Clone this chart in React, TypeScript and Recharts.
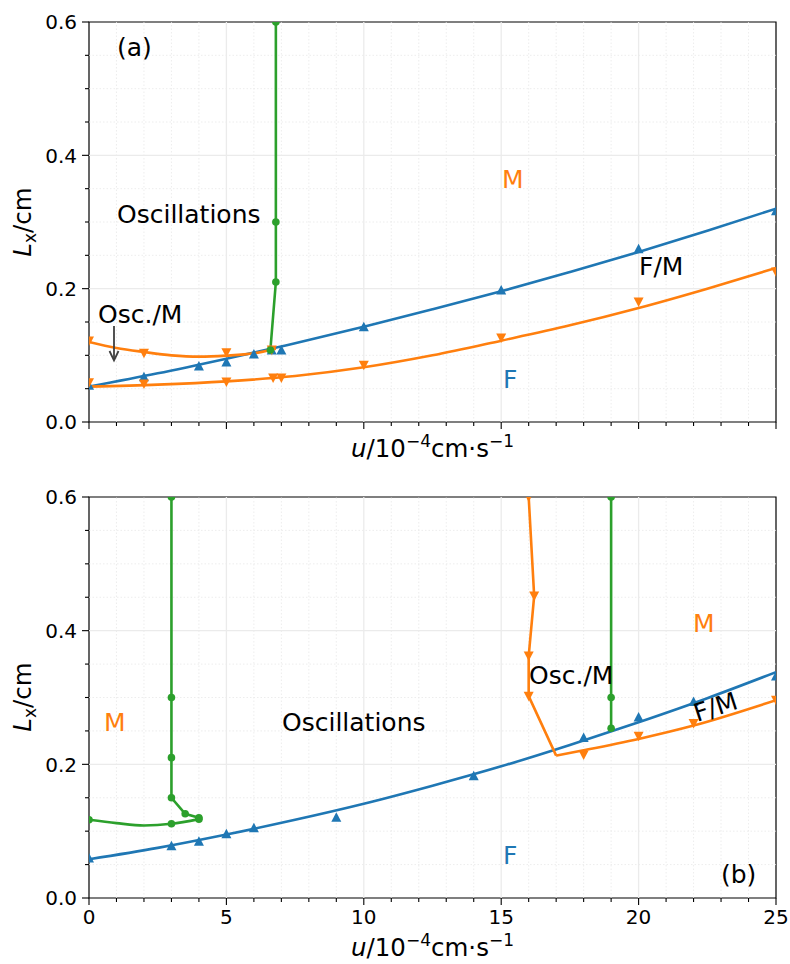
import React from "react";
import { ComposedChart, Line, Scatter, XAxis, YAxis, ReferenceLine, ReferenceArea } from "recharts";

const FONT = "DejaVu Sans, Liberation Sans, sans-serif";
const BLUE = "#1f77b4";
const ORANGE = "#ff7f0e";
const GREEN = "#2ca02c";

// axis ticks (minor + major)
const xTicks = [0, 1, 2, 3, 4, 5, 6, 7, 8, 9, 10, 11, 12, 13, 14, 15, 16, 17, 18, 19, 20, 21, 22, 23, 24, 25];
const xMajor = [0, 5, 10, 15, 20, 25];
const yTicks = [0, 0.05, 0.1, 0.15, 0.2, 0.25, 0.3, 0.35, 0.4, 0.45, 0.5, 0.55, 0.6];
const yMajor = [0, 0.2, 0.4, 0.6];

// ---- panel (a)
const aBlueMarkU = [0, 2, 4, 5, 6, 6.65, 7, 10, 15, 20, 25];
const aBlueMarkL = [0.055, 0.068, 0.084, 0.09, 0.102, 0.108, 0.108, 0.143, 0.198, 0.26, 0.317];
const aBlueFitU = [0, 2.5, 5, 7.5, 10, 12.5, 15, 17.5, 20, 22.5, 25];
const aBlueFitL = [0.053, 0.073, 0.095, 0.118, 0.143, 0.169, 0.196, 0.225, 0.255, 0.287, 0.32];
const aOrLowMarkU = [0, 2, 5, 6.7, 7, 10, 15, 20, 25];
const aOrLowMarkL = [0.059, 0.057, 0.06, 0.066, 0.066, 0.085, 0.126, 0.18, 0.225];
const aOrLowFitU = [0, 2.5, 5, 7.5, 10, 12.5, 15, 17.5, 20, 22.5, 25];
const aOrLowFitL = [0.053, 0.056, 0.061, 0.069, 0.082, 0.1, 0.122, 0.145, 0.171, 0.2, 0.231];
const aOrUpMarkU = [0, 2, 5, 6.65];
const aOrUpMarkL = [0.1215, 0.103, 0.104, 0.108];
const aOrUpFitU = [0, 1, 2, 3, 4, 5, 6, 6.8];
const aOrUpFitL = [0.12, 0.111, 0.105, 0.1, 0.098, 0.0995, 0.103, 0.11];
const aGreenU = [6.8, 6.8, 6.8, 6.6];
const aGreenL = [0.6, 0.3, 0.21, 0.108];

// ---- panel (b)
const bBlueMarkU = [0, 3, 4, 5, 6, 9, 14, 18, 20, 22, 25];
const bBlueMarkL = [0.06, 0.078, 0.085, 0.096, 0.105, 0.121, 0.183, 0.24, 0.271, 0.294, 0.332];
const bBlueFitU = [0, 2.5, 5, 7.5, 10, 12.5, 15, 17.5, 20, 22.5, 25];
const bBlueFitL = [0.058, 0.075, 0.095, 0.117, 0.141, 0.168, 0.197, 0.229, 0.263, 0.299, 0.338];
const bOrUpU = [16, 16.2, 16, 16, 17];
const bOrUpL = [0.6, 0.452, 0.362, 0.302, 0.213];
const bOrUpMarkU = [16, 16.2, 16, 16];
const bOrUpMarkL = [0.6, 0.452, 0.362, 0.302];
const bOrLowFitU = [17, 18, 20, 22, 25];
const bOrLowFitL = [0.213, 0.221, 0.238, 0.258, 0.296];
const bOrLowMarkU = [18, 20, 22, 25];
const bOrLowMarkL = [0.214, 0.242, 0.261, 0.296];
const bGreenAU = [3, 3, 3, 3, 3.5, 4];
const bGreenAL = [0.6, 0.3, 0.21, 0.15, 0.126, 0.12];
const bGreenBU = [0, 1, 2, 3, 4];
const bGreenBL = [0.117, 0.112, 0.1085, 0.111, 0.118];
const bGreenBMarkU = [0, 3, 4];
const bGreenBMarkL = [0.117, 0.111, 0.118];
const bGreenCU = [19, 19, 19];
const bGreenCL = [0.6, 0.3, 0.254];

const pts = (u: number[], l: number[]) => u.map((x, i) => ({ x, y: l[i] }));
const isIn = (arr: number[], v: number) => arr.some((m) => Math.abs(m - v) < 1e-9);

const triUp = (color: string) => (p: any) => (
  <path d={`M${p.cx},${p.cy - 5} L${p.cx + 5},${p.cy + 4.5} L${p.cx - 5},${p.cy + 4.5} Z`} fill={color} />
);
const triDown = (color: string) => (p: any) => (
  <path d={`M${p.cx},${p.cy + 5} L${p.cx + 5},${p.cy - 4.5} L${p.cx - 5},${p.cy - 4.5} Z`} fill={color} />
);
const dotShape = (color: string) => (p: any) => <circle cx={p.cx} cy={p.cy} r={3.8} fill={color} />;

const lineEl = (key: string, data: any[], color: string, type: any) => (
  <Line
    key={key}
    data={data}
    dataKey="y"
    type={type}
    stroke={color}
    strokeWidth={2.6}
    dot={false}
    activeDot={false}
    isAnimationActive={false}
  />
);
const markEl = (key: string, data: any[], shape: any) => (
  <Scatter key={key} data={data} dataKey="y" shape={shape} isAnimationActive={false} />
);

function XTick(props: any) {
  const { x, y, payload, labels } = props;
  const v = payload.value;
  const major = isIn(xMajor, v);
  return (
    <g>
      <line x1={x} x2={x} y1={y} y2={y + (major ? 7 : 4)} stroke="#000" strokeWidth={1.1} />
      {labels && major && (
        <text x={x} y={y + 25.5} textAnchor="middle" fontSize={20} fontFamily={FONT} fill="#000">
          {v}
        </text>
      )}
    </g>
  );
}

function YTick(props: any) {
  const { x, y, payload } = props;
  const v = payload.value;
  const major = isIn(yMajor, v);
  return (
    <g>
      <line x1={x} x2={x - (major ? 7 : 4)} y1={y} y2={y} stroke="#000" strokeWidth={1.1} />
      {major && (
        <text x={x - 12} y={y + 7.3} textAnchor="end" fontSize={20} fontFamily={FONT} fill="#000">
          {v.toFixed(1)}
        </text>
      )}
    </g>
  );
}

function Panel({ height, xAxisHeight, labels, series }: any) {
  return (
    <ComposedChart width={790} height={height} margin={{ top: 22, right: 14, left: 29, bottom: 0 }}>
      <XAxis
        dataKey="x"
        type="number"
        domain={[0, 25]}
        ticks={xTicks}
        interval={0}
        allowDataOverflow
        height={xAxisHeight}
        axisLine={false}
        tickLine={false}
        tickSize={0}
        tickMargin={0}
        tick={(p: any) => <XTick {...p} labels={labels} />}
      />
      <YAxis
        type="number"
        domain={[0, 0.6]}
        ticks={yTicks}
        interval={0}
        allowDataOverflow
        width={60}
        axisLine={false}
        tickLine={false}
        tickSize={0}
        tickMargin={0}
        tick={(p: any) => <YTick {...p} />}
      />
      {xTicks.filter((v) => !isIn(xMajor, v)).map((v) => (
        <ReferenceLine key={"mx" + v} x={v} stroke="#e9e9e9" strokeWidth={0.8} strokeDasharray="1.5 2" />
      ))}
      {yTicks.filter((v) => !isIn(yMajor, v)).map((v) => (
        <ReferenceLine key={"my" + v} y={v} stroke="#e9e9e9" strokeWidth={0.8} strokeDasharray="1.5 2" />
      ))}
      {xMajor.slice(1, -1).map((v) => (
        <ReferenceLine key={"Mx" + v} x={v} stroke="#ebebeb" strokeWidth={1.3} />
      ))}
      {yMajor.slice(1, -1).map((v) => (
        <ReferenceLine key={"My" + v} y={v} stroke="#ebebeb" strokeWidth={1.3} />
      ))}
      {series}
      <ReferenceArea x1={0} x2={25} y1={0} y2={0.6} fill="none" stroke="#000" strokeWidth={1.2} />
    </ComposedChart>
  );
}

const seriesA = [
  lineEl("abf", pts(aBlueFitU, aBlueFitL), BLUE, "monotone"),
  markEl("abm", pts(aBlueMarkU, aBlueMarkL), triUp(BLUE)),
  lineEl("aolf", pts(aOrLowFitU, aOrLowFitL), ORANGE, "monotone"),
  markEl("aolm", pts(aOrLowMarkU, aOrLowMarkL), triDown(ORANGE)),
  lineEl("aouf", pts(aOrUpFitU, aOrUpFitL), ORANGE, "monotone"),
  markEl("aoum", pts(aOrUpMarkU, aOrUpMarkL), triDown(ORANGE)),
  lineEl("ag", pts(aGreenU, aGreenL), GREEN, "linear"),
  markEl("agm", pts(aGreenU, aGreenL), dotShape(GREEN)),
];

const seriesB = [
  lineEl("bbf", pts(bBlueFitU, bBlueFitL), BLUE, "monotone"),
  markEl("bbm", pts(bBlueMarkU, bBlueMarkL), triUp(BLUE)),
  lineEl("bou", pts(bOrUpU, bOrUpL), ORANGE, "linear"),
  markEl("boum", pts(bOrUpMarkU, bOrUpMarkL), triDown(ORANGE)),
  lineEl("bolf", pts(bOrLowFitU, bOrLowFitL), ORANGE, "monotone"),
  markEl("bolm", pts(bOrLowMarkU, bOrLowMarkL), triDown(ORANGE)),
  lineEl("bga", pts(bGreenAU, bGreenAL), GREEN, "linear"),
  markEl("bgam", pts(bGreenAU, bGreenAL), dotShape(GREEN)),
  lineEl("bgb", pts(bGreenBU, bGreenBL), GREEN, "monotone"),
  markEl("bgbm", pts(bGreenBMarkU, bGreenBMarkL), dotShape(GREEN)),
  lineEl("bgc", pts(bGreenCU, bGreenCL), GREEN, "linear"),
  markEl("bgcm", pts(bGreenCU, bGreenCL), dotShape(GREEN)),
];

function XLabel({ y }: { y: number }) {
  return (
    <text x={432.5} y={y} textAnchor="middle" fontSize={24.5} fontFamily={FONT} fill="#000">
      <tspan fontStyle="italic">u</tspan>
      <tspan>/10</tspan>
      <tspan dy={-10} fontSize={17}>−4</tspan>
      <tspan dy={10}>cm·s</tspan>
      <tspan dy={-10} fontSize={17}>−1</tspan>
    </text>
  );
}

function YLabel({ cy }: { cy: number }) {
  return (
    <text transform={`translate(31,${cy}) rotate(-90)`} textAnchor="middle" fontSize={24.5} fontFamily={FONT} fill="#000">
      <tspan fontStyle="italic">L</tspan>
      <tspan dy={5} fontSize={17}>x</tspan>
      <tspan dy={-5}>/cm</tspan>
    </text>
  );
}

function Note({ x, y, c = "#000", children, rot }: any) {
  return (
    <text
      x={x}
      y={y}
      fontSize={25}
      fontFamily={FONT}
      fill={c}
      transform={rot ? `rotate(${rot},${x},${y})` : undefined}
    >
      {children}
    </text>
  );
}

export default function App() {
  return (
    <div style={{ position: "absolute", left: 0, top: 0, width: 790, height: 964, background: "#fff", fontFamily: FONT }}>
      <div style={{ position: "absolute", left: 0, top: 0 }}>
        <Panel height={475} xAxisHeight={53} labels={false} series={seriesA} />
      </div>
      <div style={{ position: "absolute", left: 0, top: 475 }}>
        <Panel height={489} xAxisHeight={66} labels={true} series={seriesB} />
      </div>
      <svg width={790} height={964} style={{ position: "absolute", left: 0, top: 0, pointerEvents: "none" }}>
        <YLabel cy={222} />
        <YLabel cy={697} />
        <XLabel y={457} />
        <XLabel y={956} />
        {/* panel (a) notes */}
        <Note x={117} y={56}>(a)</Note>
        <Note x={117} y={223}>Oscillations</Note>
        <Note x={98} y={322.5}>Osc./M</Note>
        <g stroke="#404040" strokeWidth={1.8} fill="none">
          <line x1={114} y1={326} x2={114} y2={360} />
          <polyline points="109.5,351 114,360.5 118.5,351" />
        </g>
        <Note x={502} y={188} c={ORANGE}>M</Note>
        <Note x={639} y={275}>F/M</Note>
        <Note x={503} y={388} c={BLUE}>F</Note>
        {/* panel (b) notes */}
        <Note x={104} y={730.5} c={ORANGE}>M</Note>
        <Note x={282} y={730.5}>Oscillations</Note>
        <Note x={529} y={684}>Osc./M</Note>
        <Note x={693} y={631.5} c={ORANGE}>M</Note>
        <Note x={697} y={722} rot={-18}>F/M</Note>
        <Note x={503} y={864} c={BLUE}>F</Note>
        <Note x={721} y={883}>(b)</Note>
      </svg>
    </div>
  );
}
